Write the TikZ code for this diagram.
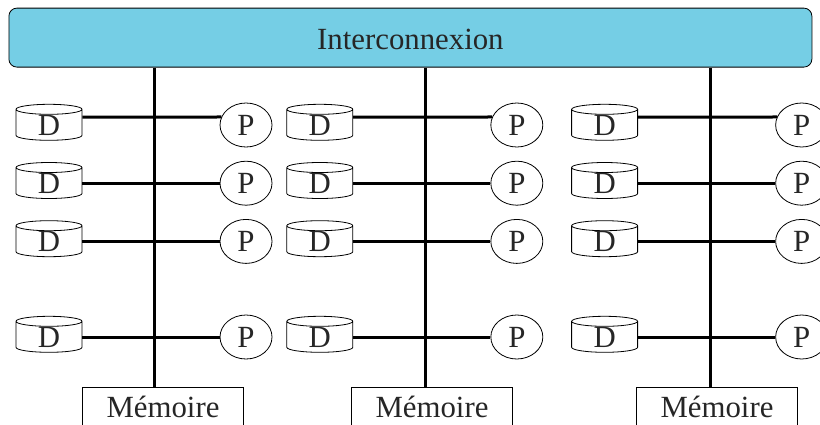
\documentclass[tikz,border=0pt]{standalone}
\usepackage{fontspec}
\setmainfont{Liberation Serif}
\usepackage{xcolor}
\usetikzlibrary{positioning,shapes.geometric}
\definecolor{netblue}{RGB}{117,206,229}
\tikzset{
  archi/.style={font=\fontsize{15.4}{18}\selectfont,
    text=black!85,
    line width=0.4pt},
  net/.style={rectangle,draw,rounded corners=4pt,fill=netblue,minimum width=401.5pt,minimum height=29.5pt,inner sep=0pt,text height=12.3pt,text depth=0pt},
  disk/.style={cylinder,draw,shape border rotate=90,aspect=0.45,minimum width=33pt,minimum height=18pt,inner sep=0pt},
  proc/.style={ellipse,draw,minimum width=26pt,minimum height=22pt,inner sep=0pt},
  mem/.style={rectangle,draw,minimum width=80.5pt,minimum height=20pt,inner sep=0pt},
  bus/.style={line width=1.5pt}}
\begin{document}
\begin{tikzpicture}[archi]
      \clip (0,0) rectangle (410pt,-212pt);
      \node[net] (net) at (205.2pt,-18.8pt) {Interconnexion};
      % first column
      \node[disk] (d11) at (24.5pt,-62.5pt) {D};
      \node[disk] (d12) [below=10.7pt of d11] {D};
      \node[disk] (d13) [below=10.7pt of d12] {D};
      \node[disk] (d14) [below=29.4pt of d13] {D};
      \node[proc] (p11) [right=68.6pt of d11] {P};
      \node[proc] (p12) [right=68.6pt of d12] {P};
      \node[proc] (p13) [right=68.6pt of d13] {P};
      \node[proc] (p14) [right=68.6pt of d14] {P};
      \node[mem] (m1) at (81.5pt,-203.5pt) {Mémoire};
      % second column
      \node[disk] (d21) [right=102pt of d11] {D};
      \node[disk] (d22) [below=10.7pt of d21] {D};
      \node[disk] (d23) [below=10.7pt of d22] {D};
      \node[disk] (d24) [below=29.4pt of d23] {D};
      \node[proc] (p21) [right=68.6pt of d21] {P};
      \node[proc] (p22) [right=68.6pt of d22] {P};
      \node[proc] (p23) [right=68.6pt of d23] {P};
      \node[proc] (p24) [right=68.6pt of d24] {P};
      \node[mem] (m2) at (216pt,-203.5pt) {Mémoire};
      % third column
      \node[disk] (d31) [right=109pt of d21] {D};
      \node[disk] (d32) [below=10.7pt of d31] {D};
      \node[disk] (d33) [below=10.7pt of d32] {D};
      \node[disk] (d34) [below=29.4pt of d33] {D};
      \node[proc] (p31) [right=68.6pt of d31] {P};
      \node[proc] (p32) [right=68.6pt of d32] {P};
      \node[proc] (p33) [right=68.6pt of d33] {P};
      \node[proc] (p34) [right=68.6pt of d34] {P};
      \node[mem] (m3) at (358.5pt,-203.5pt) {Mémoire};
      \coordinate (s1) at (77.4pt,-100pt);
      \coordinate (s2) at (212.7pt,-100pt);
      \coordinate (s3) at (355pt,-100pt);
      \draw[bus] (s1 |- net.south) to (s1 |- m1.north);
      \draw[bus] (s2 |- net.south) to (s2 |- m2.north);
      \draw[bus] (s3 |- net.south) to (s3 |- m3.north);
      \draw[bus] ([yshift=3.9pt]d11.east) to (p11.162);
      \draw[bus] (d12.east) to (p12.west);
      \draw[bus] (d13.east) to (p13.west);
      \draw[bus] (d14.east) to (p14.west);
      \draw[bus] ([yshift=3.9pt]d21.east) to (p21.162);
      \draw[bus] (d22.east) to (p22.west);
      \draw[bus] (d23.east) to (p23.west);
      \draw[bus] (d24.east) to (p24.west);
      \draw[bus] ([yshift=3.9pt]d31.east) to (p31.162);
      \draw[bus] (d32.east) to (p32.west);
      \draw[bus] (d33.east) to (p33.west);
      \draw[bus] (d34.east) to (p34.west);
    \end{tikzpicture}
\end{document}
